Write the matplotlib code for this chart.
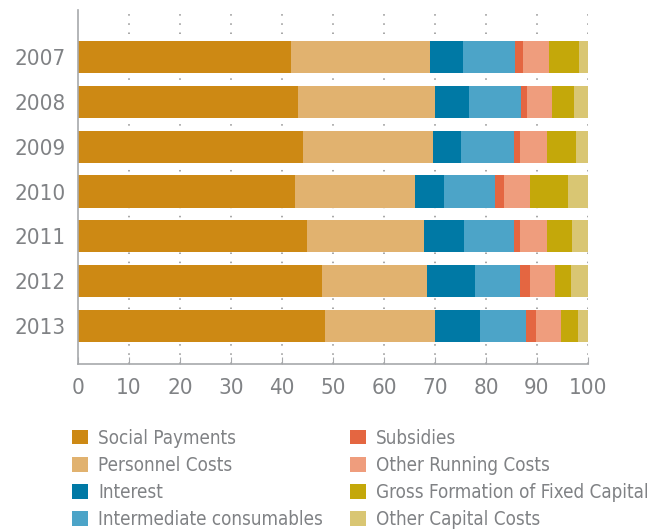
import matplotlib
matplotlib.use('Agg')
from matplotlib import pyplot as plt
from matplotlib.patches import Patch
import numpy as np

years = ['2007', '2008', '2009', '2010', '2011', '2012', '2013']

social_payments = [41.7, 43.1, 44.2, 42.6, 45.0, 47.8, 48.5]
personnel_costs = [27.4, 27.0, 25.5, 23.5, 22.9, 20.7, 21.6]
interest = [6.3, 6.6, 5.4, 5.6, 7.8, 9.4, 8.7]
intermediate = [10.3, 10.2, 10.3, 10.1, 9.7, 8.8, 9.1]
subsidies = [1.6, 1.2, 1.3, 1.8, 1.3, 2.0, 2.0]
other_running = [5.1, 4.9, 5.3, 5.1, 5.3, 4.9, 4.9]
gross_fixed = [5.9, 4.3, 5.7, 7.4, 4.9, 3.1, 3.2]
other_capital = [1.7, 2.7, 2.3, 3.9, 3.1, 3.3, 2.1]

series = [
    ('Social Payments', social_payments, '#cd8914'),
    ('Personnel Costs', personnel_costs, '#e1b26f'),
    ('Interest', interest, '#0079a5'),
    ('Intermediate consumables', intermediate, '#4ca4c8'),
    ('Subsidies', subsidies, '#e46641'),
    ('Other Running Costs', other_running, '#ef9d7d'),
    ('Gross Formation of Fixed Capital', gross_fixed, '#c4a80a'),
    ('Other Capital Costs', other_capital, '#d9c673'),
]

GREY = '#808285'
plt.rcParams['font.family'] = ['DejaVu Sans']
plt.rcParams['font.stretch'] = 'condensed'

fig = plt.figure(figsize=(6.62, 5.32), dpi=100)
ax = fig.add_axes([0.1178, 0.3158, 0.7704, 0.6652])

y = np.arange(len(years))
left = np.zeros(len(years))
for name, vals, color in series:
    ax.barh(y, vals, left=left, height=0.72, color=color, label=name, zorder=2)
    left += np.array(vals)

# dotted grid lines
for xv in range(10, 101, 10):
    ax.axvline(xv, color='#8f8f8f', lw=1.1, linestyle=(0, (1, 5)), zorder=1)

ax.set_xlim(0, 100)
ax.set_ylim(6.85, -1.05)
ax.set_yticks(y)
ax.set_yticklabels(years)
ax.set_xticks(range(0, 101, 10))

for side in ['top', 'right']:
    ax.spines[side].set_visible(False)
for side in ['left', 'bottom']:
    ax.spines[side].set_color('#a7a9ac')
    ax.spines[side].set_linewidth(1.2)

ax.tick_params(axis='y', length=0, pad=9, labelsize=16, labelcolor=GREY)
ax.tick_params(axis='x', direction='in', length=5, color='#a7a9ac',
               pad=10, labelsize=16, labelcolor=GREY)

handles = [Patch(facecolor=c, edgecolor='none') for _, _, c in series]
labels = [n for n, _, _ in series]
leg = fig.legend(handles, labels, ncol=2, loc='upper left',
                 bbox_to_anchor=(0.109, 0.194), frameon=False,
                 fontsize=13.5, handlelength=0.85, handleheight=0.8,
                 handletextpad=0.53, labelspacing=0.43, columnspacing=1.45,
                 borderaxespad=0, borderpad=0)
for t in leg.get_texts():
    t.set_color(GREY)

fig.savefig('out.png', dpi=100)
